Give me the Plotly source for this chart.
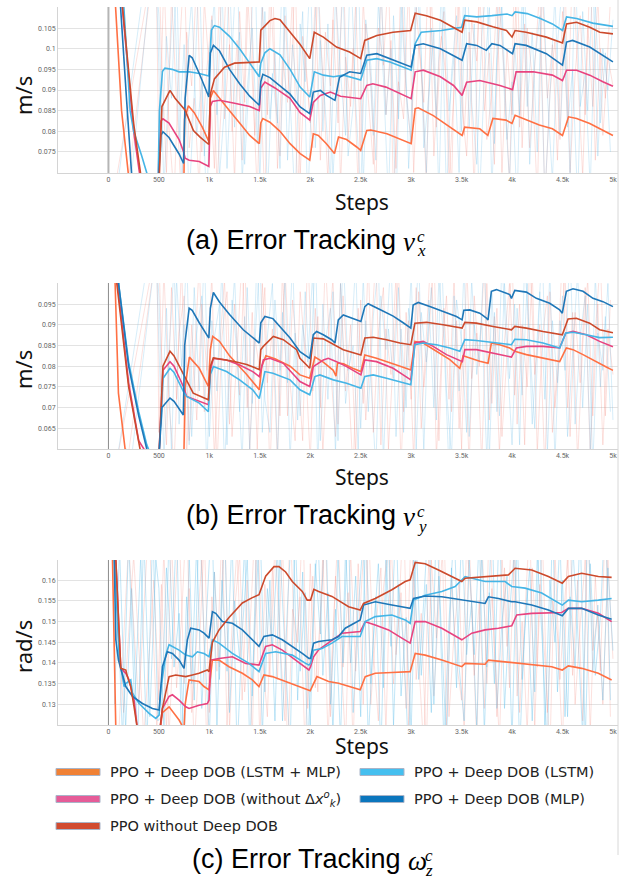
import plotly.graph_objects as go

# ---------------- ticks / categories ----------------
X_TICK_VALS = [0, 500, 1000, 1500, 2000, 2500, 3000, 3500, 4000, 4500, 5000]
X_TICK_TEXT = ["0", "500", "1k", "1.5k", "2k", "2.5k", "3k", "3.5k", "4k", "4.5k", "5k"]
VX_TICKS = [0.075, 0.08, 0.085, 0.09, 0.095, 0.1, 0.105]
VX_TICK_TEXT = ["0.075", "0.08", "0.085", "0.09", "0.095", "0.1", "0.105"]
VY_TICKS = [0.065, 0.07, 0.075, 0.08, 0.085, 0.09, 0.095]
VY_TICK_TEXT = ["0.065", "0.07", "0.075", "0.08", "0.085", "0.09", "0.095"]
WZ_TICKS = [0.13, 0.135, 0.14, 0.145, 0.15, 0.155, 0.16]
WZ_TICK_TEXT = ["0.13", "0.135", "0.14", "0.145", "0.15", "0.155", "0.16"]

# ---------------- panel (a): v_x smoothed ----------------
VX_ORANGE_STEPS = [40, 66, 130, 198, 400, 745, 755, 792, 850, 930, 995, 1010, 1040, 1100, 1200, 1300, 1400, 1495,
                   1510, 1530, 1600, 1700, 1800, 1900, 1995, 2030, 2080, 2160, 2240, 2280, 2360, 2460, 2500,
                   2560, 2600, 2760, 2890, 3000, 3040, 3070, 3220, 3380, 3505, 3530, 3680, 3760, 3810, 3940, 4000,
                   4030, 4110, 4270, 4400, 4500, 4560, 4640, 4770, 4900, 5000]
VX_ORANGE = [0.20, 0.112, 0.085, 0.0695, 0.06, 0.062, 0.083, 0.0862, 0.0845, 0.081, 0.0775, 0.088, 0.0899, 0.088,
             0.085, 0.082, 0.079, 0.077, 0.082, 0.0831, 0.0822, 0.080, 0.077, 0.0746, 0.073, 0.0794, 0.079, 0.077,
             0.0746, 0.0786, 0.078, 0.0762, 0.0754, 0.0802, 0.0803, 0.0794, 0.0782, 0.077, 0.0855, 0.0857, 0.0838,
             0.081, 0.079, 0.081, 0.0806, 0.079, 0.0831, 0.0827, 0.0819, 0.0839, 0.0831, 0.0815, 0.0806, 0.079,
             0.0835, 0.0831, 0.0819, 0.0803, 0.079]

VX_PINK_STEPS = [60, 130, 250, 310, 490, 500, 520, 540, 600, 700, 745, 760, 800, 900, 995, 1010, 1030, 1100, 1250,
                 1400, 1495, 1510, 1550, 1650, 1800, 1900, 1995, 2030, 2100, 2200, 2300, 2500, 2560, 2620, 2750,
                 2890, 3000, 3040, 3120, 3290, 3420, 3505, 3550, 3680, 3880, 4005, 4040, 4210, 4400, 4500, 4540,
                 4640, 4770, 4900, 5000]
VX_PINK = [0.20, 0.112, 0.080, 0.0695, 0.06, 0.075, 0.0825, 0.083, 0.082, 0.078, 0.075, 0.0735, 0.073, 0.0727,
           0.0715, 0.086, 0.0872, 0.0875, 0.0868, 0.086, 0.085, 0.0905, 0.0919, 0.0905, 0.088, 0.0845, 0.0827,
           0.087, 0.0887, 0.0895, 0.0885, 0.0879, 0.0911, 0.0915, 0.0907, 0.0891, 0.0879, 0.0944, 0.0948, 0.0932,
           0.0911, 0.0887, 0.0919, 0.0923, 0.0911, 0.0901, 0.0944, 0.0944, 0.0936, 0.0923, 0.0948, 0.0948, 0.0936,
           0.092, 0.0909]

VX_RED_STEPS = [60, 132, 250, 320, 490, 500, 530, 610, 660, 760, 842, 908, 995, 1010, 1050, 1150, 1250, 1495, 1510,
                1600, 1650, 1700, 1800, 1900, 1995, 2040, 2130, 2260, 2390, 2500, 2540, 2660, 2820, 2995, 3040,
                3150, 3290, 3380, 3505, 3530, 3650, 3810, 3945, 4000, 4030, 4140, 4340, 4500, 4540, 4640, 4770,
                4870, 5000]
VX_RED = [0.20, 0.112, 0.0818, 0.0695, 0.06, 0.066, 0.086, 0.0899, 0.088, 0.0851, 0.0802, 0.0786, 0.0768, 0.089,
          0.0927, 0.0955, 0.0965, 0.0968, 0.1045, 0.1068, 0.1073, 0.107, 0.104, 0.101, 0.0976, 0.104, 0.1028,
          0.1004, 0.0992, 0.0976, 0.102, 0.1032, 0.104, 0.1044, 0.1086, 0.108, 0.1069, 0.1057, 0.104, 0.1069,
          0.1065, 0.1053, 0.1044, 0.1028, 0.1044, 0.104, 0.1028, 0.1014, 0.106, 0.1064, 0.1052, 0.104, 0.1036]

VX_LBLUE_STEPS = [60, 148, 215, 250, 330, 385, 490, 505, 535, 560, 630, 700, 800, 900, 995, 1020, 1050, 1100, 1200,
                  1300, 1400, 1495, 1510, 1550, 1600, 1700, 1800, 1900, 1995, 2040, 2130, 2230, 2330, 2500, 2560,
                  2660, 2790, 2920, 3000, 3040, 3100, 3300, 3500, 3530, 3650, 3800, 3950, 4000, 4030, 4150, 4280,
                  4400, 4500, 4540, 4640, 4800, 5000]
VX_LBLUE = [0.20, 0.112, 0.085, 0.080, 0.074, 0.0695, 0.065, 0.085, 0.0945, 0.0953, 0.095, 0.0944, 0.0944, 0.094,
            0.0934, 0.1045, 0.1056, 0.1052, 0.103, 0.100, 0.0965, 0.0932, 0.0965, 0.099, 0.100, 0.0985, 0.095,
            0.0907, 0.0883, 0.0944, 0.0936, 0.0932, 0.0936, 0.0924, 0.0972, 0.0976, 0.0968, 0.0956, 0.0948, 0.1012,
            0.104, 0.1044, 0.1052, 0.108, 0.1077, 0.108, 0.1084, 0.108, 0.1089, 0.1085, 0.1073, 0.106, 0.1044,
            0.1077, 0.1073, 0.1062, 0.1054]

VX_DBLUE_STEPS = [60, 115, 180, 230, 490, 500, 520, 540, 600, 700, 745, 760, 800, 830, 900, 995, 1010, 1040, 1100,
                  1200, 1300, 1400, 1495, 1510, 1530, 1600, 1700, 1800, 1900, 1995, 2030, 2100, 2160, 2245, 2290,
                  2390, 2500, 2560, 2660, 2790, 2920, 3000, 3040, 3120, 3290, 3420, 3505, 3550, 3650, 3745, 3800,
                  3880, 3950, 4005, 4030, 4140, 4340, 4500, 4540, 4600, 4770, 4900, 5000]
VX_DBLUE = [0.20, 0.112, 0.0875, 0.0695, 0.06, 0.070, 0.079, 0.0799, 0.0785, 0.0745, 0.0722, 0.088, 0.0984, 0.0978,
            0.094, 0.0883, 0.099, 0.1008, 0.0995, 0.095, 0.0915, 0.0885, 0.0863, 0.092, 0.0938, 0.093, 0.091, 0.089,
            0.0859, 0.0843, 0.0895, 0.0899, 0.0887, 0.0875, 0.0931, 0.0944, 0.094, 0.0984, 0.0988, 0.0976, 0.0964,
            0.0956, 0.1008, 0.1012, 0.100, 0.0984, 0.0972, 0.1012, 0.1008, 0.0996, 0.1012, 0.1008, 0.0996, 0.0988,
            0.1012, 0.1008, 0.0988, 0.096, 0.1016, 0.102, 0.1004, 0.0984, 0.0968]

# ---------------- panel (b): v_y smoothed ----------------
VY_ORANGE_STEPS = [50, 66, 99, 165, 480, 745, 760, 802, 900, 990, 1010, 1033, 1100, 1200, 1370, 1495, 1520, 1560,
                   1650, 1800, 1898, 1995, 2046, 2129, 2228, 2255, 2270, 2330, 2420, 2502, 2541, 2657, 2855, 2997,
                   3037, 3119, 3251, 3383, 3482, 3515, 3680, 3762, 3795, 3878, 3977, 4027, 4142, 4307, 4472, 4538,
                   4604, 4703, 4835, 4934, 5000]
VY_ORANGE = [0.20, 0.100, 0.0735, 0.06, 0.055, 0.055, 0.075, 0.0822, 0.0795, 0.0751, 0.084, 0.0872, 0.086, 0.0825,
             0.078, 0.0743, 0.080, 0.0825, 0.0818, 0.080, 0.0779, 0.0771, 0.0822, 0.081, 0.079, 0.0776, 0.0808,
             0.0806, 0.0795, 0.0787, 0.0827, 0.0819, 0.0803, 0.0791, 0.086, 0.0856, 0.0836, 0.0816, 0.0795, 0.0825,
             0.0812, 0.0807, 0.0856, 0.0852, 0.0844, 0.0836, 0.0828, 0.082, 0.0811, 0.0844, 0.084, 0.0828, 0.0812,
             0.0798, 0.079]

VY_PINK_STEPS = [50, 90, 200, 300, 480, 500, 540, 610, 650, 742, 775, 900, 990, 1010, 1040, 1170, 1300, 1430, 1495,
                 1535, 1600, 1733, 1898, 1995, 2030, 2129, 2179, 2261, 2360, 2502, 2541, 2657, 2822, 2921, 2997,
                 3037, 3119, 3218, 3350, 3508, 3532, 3647, 3812, 3994, 4043, 4142, 4307, 4472, 4532, 4604, 4736,
                 4868, 5000]
VY_PINK = [0.20, 0.100, 0.076, 0.062, 0.055, 0.058, 0.079, 0.0811, 0.080, 0.0751, 0.0727, 0.0715, 0.0707, 0.079,
           0.0819, 0.0815, 0.0803, 0.0787, 0.0775, 0.0815, 0.0819, 0.0807, 0.0763, 0.0751, 0.0799, 0.0815, 0.0819,
           0.0811, 0.0799, 0.0779, 0.0815, 0.0811, 0.0795, 0.0779, 0.0767, 0.0856, 0.086, 0.0848, 0.0828, 0.0811,
           0.084, 0.084, 0.0832, 0.0822, 0.0844, 0.0848, 0.0848, 0.0844, 0.088, 0.0884, 0.0876, 0.086, 0.0847]

VY_RED_STEPS = [50, 83, 200, 313, 480, 500, 540, 610, 650, 742, 840, 990, 1010, 1040, 1138, 1237, 1370, 1495, 1510,
                1535, 1634, 1733, 1865, 1898, 1995, 2030, 2129, 2228, 2327, 2502, 2541, 2624, 2756, 2888, 2997, 3037,
                3152, 3317, 3505, 3532, 3647, 3812, 3994, 4027, 4142, 4307, 4498, 4555, 4637, 4769, 4868, 5000]
VY_RED = [0.20, 0.100, 0.075, 0.06, 0.055, 0.058, 0.080, 0.0836, 0.0825, 0.0783, 0.0735, 0.0719, 0.080, 0.082,
          0.0816, 0.0812, 0.0804, 0.0792, 0.084, 0.0848, 0.0872, 0.0864, 0.084, 0.0819, 0.0795, 0.0868, 0.0866,
          0.0852, 0.084, 0.0827, 0.0868, 0.087, 0.0864, 0.0856, 0.0852, 0.0904, 0.0906, 0.090, 0.0892, 0.0906,
          0.0904, 0.0896, 0.0888, 0.0896, 0.0892, 0.0884, 0.0876, 0.0914, 0.0916, 0.0904, 0.0888, 0.0881]

VY_LBLUE_STEPS = [50, 100, 200, 300, 380, 480, 500, 540, 610, 650, 742, 775, 900, 990, 1010, 1040, 1170, 1300, 1430,
                  1495, 1550, 1630, 1800, 1898, 1995, 2046, 2096, 2228, 2360, 2502, 2541, 2624, 2756, 2888, 2997,
                  3037, 3119, 3251, 3383, 3482, 3532, 3647, 3812, 3994, 4027, 4142, 4307, 4472, 4532, 4604, 4736,
                  4868, 5000]
VY_LBLUE = [0.20, 0.100, 0.081, 0.069, 0.061, 0.055, 0.058, 0.077, 0.0795, 0.0785, 0.0739, 0.0727, 0.0711, 0.069,
            0.078, 0.0799, 0.0787, 0.0767, 0.0743, 0.0722, 0.0787, 0.0783, 0.0767, 0.0743, 0.0731, 0.0775, 0.0779,
            0.0767, 0.0759, 0.0747, 0.0775, 0.0779, 0.0771, 0.0763, 0.0755, 0.0852, 0.0856, 0.0852, 0.0844, 0.0836,
            0.0864, 0.0862, 0.0858, 0.0852, 0.0865, 0.0864, 0.0856, 0.0844, 0.088, 0.0882, 0.0876, 0.0869, 0.087]

VY_DBLUE_STEPS = [50, 100, 200, 300, 380, 480, 500, 530, 610, 650, 742, 755, 800, 830, 900, 995, 1010, 1040, 1100,
                  1200, 1336, 1495, 1510, 1550, 1630, 1800, 1898, 1995, 2030, 2063, 2129, 2212, 2245, 2278, 2327,
                  2426, 2502, 2541, 2574, 2690, 2822, 2921, 2997, 3020, 3070, 3185, 3317, 3449, 3505, 3522, 3581,
                  3680, 3746, 3762, 3795, 3845, 3977, 3994, 4027, 4142, 4241, 4373, 4472, 4498, 4538, 4604, 4703,
                  4802, 4901, 5000]
VY_DBLUE = [0.20, 0.100, 0.080, 0.068, 0.060, 0.055, 0.058, 0.070, 0.0723, 0.0715, 0.0682, 0.085, 0.094, 0.0935,
            0.0905, 0.0868, 0.094, 0.0978, 0.0955, 0.0925, 0.0888, 0.0856, 0.0905, 0.092, 0.0915, 0.0868, 0.0835,
            0.0819, 0.0876, 0.0884, 0.0876, 0.0864, 0.0856, 0.0912, 0.0924, 0.0916, 0.0908, 0.0944, 0.0951, 0.0937,
            0.0921, 0.0905, 0.0892, 0.0948, 0.0954, 0.0944, 0.0932, 0.092, 0.0912, 0.0935, 0.0936, 0.0928, 0.0916,
            0.0912, 0.0981, 0.0985, 0.0973, 0.0964, 0.0983, 0.0979, 0.0964, 0.0952, 0.0936, 0.0928, 0.0981, 0.0987,
            0.0981, 0.0964, 0.0956, 0.0944]

# ---------------- panel (c): omega_z smoothed ----------------
WZ_ORANGE_STEPS = [20, 40, 73, 480, 502, 535, 601, 700, 749, 760, 799, 898, 947, 997, 1030, 1096, 1195, 1327, 1426,
                   1492, 1541, 1624, 1756, 1888, 1987, 2000, 2066, 2182, 2281, 2380, 2495, 2545, 2644, 2809, 2990,
                   3040, 3139, 3304, 3502, 3535, 3733, 3766, 3931, 4030, 4195, 4393, 4498, 4558, 4690, 4855, 4987]
WZ_ORANGE = [0.20, 0.165, 0.124, 0.12, 0.122, 0.128, 0.1294, 0.1262, 0.124, 0.130, 0.1359, 0.1355, 0.1343, 0.1335,
             0.1407, 0.1407, 0.1391, 0.1375, 0.1359, 0.1343, 0.1371, 0.1367, 0.1355, 0.1343, 0.1333, 0.1333, 0.1367,
             0.1355, 0.1351, 0.1343, 0.1335, 0.1367, 0.1375, 0.1377, 0.1379, 0.1423, 0.1419, 0.1407, 0.1391, 0.1399,
             0.1397, 0.1407, 0.1403, 0.1399, 0.1395, 0.1391, 0.1383, 0.1393, 0.1387, 0.1375, 0.1359]

WZ_PINK_STEPS = [30, 73, 122, 172, 205, 254, 287, 480, 502, 535, 601, 634, 700, 766, 799, 898, 980, 997, 1013, 1096,
                 1228, 1360, 1492, 1558, 1624, 1723, 1855, 1987, 2003, 2033, 2083, 2215, 2314, 2495, 2545, 2644, 2776,
                 2908, 2990, 3040, 3139, 3304, 3502, 3601, 3733, 3865, 3997, 4046, 4195, 4492, 4558, 4690, 4855, 4987]
WZ_PINK = [0.20, 0.165, 0.1387, 0.1375, 0.1359, 0.131, 0.124, 0.12, 0.122, 0.129, 0.1319, 0.1323, 0.131, 0.1294,
           0.129, 0.1298, 0.1302, 0.131, 0.1407, 0.1411, 0.1415, 0.1399, 0.1395, 0.144, 0.1444, 0.1431, 0.1407,
           0.1383, 0.1391, 0.1415, 0.1432, 0.1456, 0.1472, 0.1476, 0.150, 0.1492, 0.148, 0.146, 0.1448, 0.150,
           0.150, 0.1484, 0.1456, 0.1472, 0.148, 0.1484, 0.149, 0.1516, 0.152, 0.1522, 0.1532, 0.1532, 0.152, 0.150]

WZ_RED_STEPS = [30, 73, 122, 172, 188, 221, 254, 287, 480, 500, 535, 601, 667, 766, 832, 898, 980, 997, 1030, 1096,
                1195, 1327, 1426, 1492, 1558, 1640, 1690, 1756, 1822, 1921, 1970, 2003, 2036, 2083, 2215, 2380, 2495,
                2528, 2644, 2809, 2941, 2990, 3040, 3139, 3271, 3403, 3502, 3535, 3733, 3964, 4030, 4195, 4360, 4498,
                4558, 4690, 4855, 4987]
WZ_RED = [0.20, 0.165, 0.1387, 0.1383, 0.1367, 0.1343, 0.1294, 0.124, 0.12, 0.122, 0.129, 0.1367, 0.1371, 0.1367,
          0.1371, 0.1375, 0.1383, 0.1379, 0.145, 0.148, 0.151, 0.1545, 0.1558, 0.1565, 0.161, 0.1633, 0.1633,
          0.162, 0.1597, 0.1573, 0.1552, 0.1552, 0.1578, 0.1573, 0.1561, 0.1536, 0.1528, 0.1544, 0.1556, 0.1577,
          0.1597, 0.1601, 0.1643, 0.164, 0.1625, 0.1609, 0.1597, 0.1605, 0.1609, 0.1613, 0.1629, 0.1625, 0.1609,
          0.1593, 0.1609, 0.1617, 0.1609, 0.1607]

WZ_LBLUE_STEPS = [30, 60, 106, 155, 172, 221, 238, 304, 403, 469, 502, 520, 568, 601, 700, 766, 832, 881, 947, 997,
                  1030, 1096, 1228, 1393, 1492, 1558, 1657, 1822, 1954, 1987, 2003, 2033, 2116, 2215, 2314, 2495,
                  2545, 2644, 2809, 2941, 2990, 3023, 3139, 3304, 3436, 3535, 3733, 3931, 3997, 4129, 4294, 4498,
                  4558, 4690, 4855, 4987]
WZ_LBLUE = [0.20, 0.165, 0.1415, 0.1343, 0.135, 0.1359, 0.1327, 0.1302, 0.1278, 0.1266, 0.1274, 0.134, 0.142, 0.1444,
            0.1431, 0.1419, 0.1415, 0.1427, 0.1423, 0.1415, 0.1456, 0.1448, 0.1423, 0.1399, 0.1379, 0.1423, 0.1427,
            0.1419, 0.1399, 0.1395, 0.1399, 0.1431, 0.1435, 0.1448, 0.1464, 0.1464, 0.150, 0.1512, 0.1516, 0.1504,
            0.1496, 0.1552, 0.1564, 0.1573, 0.1585, 0.1609, 0.1597, 0.1597, 0.1585, 0.1581, 0.1569, 0.154, 0.1552,
            0.1548, 0.1552, 0.1556]

WZ_DBLUE_STEPS = [30, 56, 73, 99, 139, 172, 238, 337, 436, 502, 535, 584, 634, 700, 749, 782, 815, 898, 947, 997,
                  1030, 1063, 1129, 1228, 1327, 1426, 1492, 1541, 1624, 1723, 1822, 1921, 1987, 2003, 2033, 2083,
                  2215, 2281, 2347, 2462, 2495, 2528, 2644, 2809, 2990, 3023, 3139, 3304, 3502, 3733, 3766, 3865,
                  3997, 4030, 4195, 4360, 4498, 4558, 4690, 4855, 4987]
WZ_DBLUE = [0.20, 0.165, 0.1456, 0.1407, 0.1375, 0.1343, 0.1319, 0.1302, 0.129, 0.1286, 0.1391, 0.1427, 0.1423,
            0.1407, 0.1387, 0.1456, 0.1484, 0.148, 0.1472, 0.146, 0.1524, 0.152, 0.150, 0.1496, 0.148, 0.1456, 0.144,
            0.1464, 0.1468, 0.1456, 0.144, 0.1423, 0.1411, 0.1411, 0.1448, 0.1452, 0.1456, 0.1464, 0.1484, 0.150,
            0.1504, 0.154, 0.1548, 0.154, 0.1532, 0.1556, 0.1562, 0.156, 0.1552, 0.1544, 0.156, 0.1556, 0.1548,
            0.1548, 0.154, 0.1528, 0.1514, 0.1532, 0.1532, 0.1516, 0.1506]

# ---------------- faint raw (unsmoothed) readings ----------------
RAW_GRID_STEPS = list(range(500, 5001, 50))
RAW_GRID2_STEPS = list(range(525, 4976, 50))

VX_RAW_WARM_EARLY_STEPS = [20, 470]
VX_RAW_WARM_EARLY = [0.06, 0.125]
VX_RAW_WARM = [0.072, 0.118, 0.081, 0.064, 0.097, 0.121, 0.076, 0.088, 0.066, 0.112,
               0.094, 0.071, 0.115, 0.083, 0.101, 0.068, 0.109, 0.087, 0.124, 0.079,
               0.096, 0.063, 0.117, 0.092, 0.074, 0.108, 0.085, 0.119, 0.069, 0.099,
               0.082, 0.113, 0.073, 0.104, 0.091, 0.122, 0.067, 0.098, 0.086, 0.111,
               0.075, 0.106, 0.093, 0.065, 0.116, 0.084, 0.102, 0.071, 0.12, 0.089,
               0.077, 0.11, 0.095, 0.068, 0.114, 0.081, 0.103, 0.092, 0.066, 0.118,
               0.087, 0.074, 0.107, 0.097, 0.123, 0.078, 0.09, 0.112, 0.07, 0.1,
               0.084, 0.119, 0.076, 0.105, 0.093, 0.064, 0.115, 0.088, 0.101, 0.073,
               0.109, 0.082, 0.121, 0.095, 0.069, 0.106, 0.086, 0.113, 0.079, 0.098,
               0.091]
VX_RAW_WARM2_EARLY_STEPS = [150, 490]
VX_RAW_WARM2_EARLY = [0.058, 0.13]
VX_RAW_WARM2 = [0.099, 0.07, 0.113, 0.086, 0.062, 0.104, 0.091, 0.118, 0.075, 0.095,
                0.108, 0.067, 0.089, 0.121, 0.08, 0.102, 0.073, 0.115, 0.093, 0.065,
                0.11, 0.084, 0.12, 0.071, 0.098, 0.087, 0.114, 0.063, 0.103, 0.09,
                0.076, 0.117, 0.094, 0.068, 0.107, 0.082, 0.123, 0.078, 0.1, 0.066,
                0.112, 0.088, 0.072, 0.105, 0.096, 0.119, 0.064, 0.092, 0.083, 0.116,
                0.07, 0.101, 0.087, 0.122, 0.074, 0.097, 0.109, 0.068, 0.09, 0.113,
                0.079, 0.104, 0.065, 0.118, 0.085, 0.099, 0.072, 0.111, 0.093, 0.067,
                0.12, 0.081, 0.106, 0.076, 0.096, 0.115, 0.063, 0.089, 0.102, 0.078,
                0.117, 0.07, 0.094, 0.108, 0.084, 0.121, 0.073, 0.1, 0.088, 0.112]
VX_RAW_COOL_EARLY_STEPS = [80, 430]
VX_RAW_COOL_EARLY = [0.065, 0.13]
VX_RAW_COOL = [0.108, 0.066, 0.093, 0.117, 0.078, 0.101, 0.063, 0.089, 0.121, 0.074,
               0.097, 0.112, 0.069, 0.086, 0.118, 0.081, 0.104, 0.072, 0.095, 0.125,
               0.067, 0.109, 0.083, 0.099, 0.071, 0.114, 0.088, 0.062, 0.106, 0.092,
               0.119, 0.076, 0.102, 0.085, 0.068, 0.113, 0.094, 0.079, 0.122, 0.087,
               0.065, 0.107, 0.096, 0.073, 0.116, 0.084, 0.1, 0.061, 0.111, 0.09,
               0.077, 0.12, 0.098, 0.07, 0.105, 0.083, 0.115, 0.064, 0.094, 0.108,
               0.08, 0.123, 0.087, 0.072, 0.103, 0.117, 0.066, 0.097, 0.111, 0.078,
               0.092, 0.062, 0.114, 0.086, 0.104, 0.075, 0.12, 0.089, 0.068, 0.101,
               0.116, 0.081, 0.095, 0.063, 0.109, 0.085, 0.118, 0.074, 0.1, 0.09,
               0.107]
VX_RAW_COOL2_EARLY_STEPS = [200, 460]
VX_RAW_COOL2_EARLY = [0.062, 0.128]
VX_RAW_COOL2 = [0.075, 0.103, 0.088, 0.119, 0.066, 0.096, 0.112, 0.079, 0.092, 0.061,
                0.107, 0.084, 0.116, 0.071, 0.099, 0.124, 0.068, 0.09, 0.105, 0.077,
                0.113, 0.064, 0.094, 0.082, 0.12, 0.073, 0.101, 0.087, 0.109, 0.062,
                0.097, 0.118, 0.08, 0.106, 0.069, 0.091, 0.115, 0.074, 0.086, 0.122,
                0.067, 0.102, 0.079, 0.111, 0.093, 0.063, 0.108, 0.083, 0.117, 0.071,
                0.095, 0.121, 0.076, 0.089, 0.104, 0.065, 0.114, 0.085, 0.098, 0.07,
                0.119, 0.081, 0.106, 0.062, 0.093, 0.11, 0.077, 0.123, 0.088, 0.068,
                0.101, 0.084, 0.116, 0.072, 0.097, 0.108, 0.064, 0.09, 0.113, 0.079,
                0.105, 0.069, 0.12, 0.086, 0.094, 0.066, 0.111, 0.082, 0.099, 0.075]

VY_RAW_WARM_EARLY_STEPS = [30, 480]
VY_RAW_WARM_EARLY = [0.05, 0.11]
VY_RAW_WARM = [0.064, 0.103, 0.071, 0.056, 0.088, 0.097, 0.062, 0.081, 0.105, 0.069,
               0.092, 0.058, 0.084, 0.101, 0.066, 0.095, 0.073, 0.108, 0.06, 0.087,
               0.079, 0.099, 0.054, 0.091, 0.068, 0.104, 0.076, 0.062, 0.098, 0.083,
               0.057, 0.094, 0.07, 0.106, 0.08, 0.063, 0.1, 0.074, 0.09, 0.059,
               0.096, 0.067, 0.085, 0.107, 0.061, 0.089, 0.078, 0.102, 0.055, 0.093,
               0.072, 0.099, 0.065, 0.086, 0.109, 0.058, 0.082, 0.097, 0.069, 0.091,
               0.06, 0.104, 0.077, 0.088, 0.056, 0.1, 0.071, 0.094, 0.063, 0.083,
               0.106, 0.066, 0.09, 0.075, 0.103, 0.059, 0.087, 0.097, 0.064, 0.08,
               0.108, 0.07, 0.093, 0.057, 0.085, 0.101, 0.068, 0.095, 0.061, 0.089,
               0.078]
VY_RAW_WARM2_EARLY_STEPS = [160, 495]
VY_RAW_WARM2_EARLY = [0.052, 0.112]
VY_RAW_WARM2 = [0.084, 0.061, 0.099, 0.072, 0.105, 0.058, 0.09, 0.067, 0.095, 0.079,
                0.102, 0.055, 0.087, 0.098, 0.063, 0.083, 0.107, 0.07, 0.093, 0.06,
                0.1, 0.076, 0.089, 0.057, 0.104, 0.068, 0.096, 0.081, 0.062, 0.109,
                0.074, 0.092, 0.059, 0.086, 0.101, 0.066, 0.097, 0.078, 0.054, 0.094,
                0.071, 0.106, 0.064, 0.088, 0.099, 0.06, 0.083, 0.103, 0.069, 0.091,
                0.057, 0.098, 0.075, 0.087, 0.108, 0.062, 0.094, 0.072, 0.101, 0.065,
                0.089, 0.056, 0.097, 0.08, 0.105, 0.067, 0.092, 0.059, 0.086, 0.1,
                0.073, 0.095, 0.061, 0.107, 0.078, 0.09, 0.055, 0.098, 0.07, 0.084,
                0.103, 0.063, 0.093, 0.076, 0.099, 0.058, 0.088, 0.106, 0.068, 0.096]
VY_RAW_COOL_EARLY_STEPS = [70, 450]
VY_RAW_COOL_EARLY = [0.055, 0.115]
VY_RAW_COOL = [0.097, 0.058, 0.083, 0.104, 0.066, 0.09, 0.061, 0.099, 0.074, 0.108,
               0.063, 0.087, 0.095, 0.056, 0.081, 0.102, 0.069, 0.092, 0.06, 0.085,
               0.106, 0.072, 0.064, 0.096, 0.079, 0.101, 0.057, 0.088, 0.068, 0.098,
               0.075, 0.109, 0.062, 0.086, 0.094, 0.059, 0.1, 0.071, 0.083, 0.105,
               0.065, 0.091, 0.077, 0.055, 0.097, 0.084, 0.107, 0.063, 0.089, 0.07,
               0.103, 0.06, 0.093, 0.081, 0.099, 0.067, 0.108, 0.074, 0.058, 0.096,
               0.086, 0.064, 0.101, 0.078, 0.092, 0.057, 0.098, 0.069, 0.105, 0.082,
               0.061, 0.094, 0.073, 0.1, 0.066, 0.087, 0.109, 0.059, 0.091, 0.076,
               0.097, 0.063, 0.084, 0.103, 0.07, 0.095, 0.056, 0.088, 0.079, 0.1,
               0.067]
VY_RAW_COOL2_EARLY_STEPS = [210, 470]
VY_RAW_COOL2_EARLY = [0.054, 0.108]
VY_RAW_COOL2 = [0.066, 0.094, 0.059, 0.101, 0.08, 0.107, 0.063, 0.088, 0.097, 0.055,
                0.091, 0.074, 0.104, 0.061, 0.096, 0.083, 0.057, 0.099, 0.071, 0.109,
                0.064, 0.087, 0.1, 0.058, 0.093, 0.076, 0.106, 0.067, 0.09, 0.081,
                0.103, 0.056, 0.095, 0.072, 0.098, 0.062, 0.108, 0.079, 0.085, 0.06,
                0.102, 0.069, 0.092, 0.105, 0.057, 0.089, 0.077, 0.099, 0.064, 0.094,
                0.082, 0.107, 0.059, 0.096, 0.07, 0.101, 0.086, 0.055, 0.097, 0.074,
                0.104, 0.063, 0.09, 0.081, 0.108, 0.058, 0.093, 0.068, 0.1, 0.077,
                0.095, 0.061, 0.106, 0.084, 0.065, 0.098, 0.072, 0.103, 0.057, 0.091,
                0.079, 0.109, 0.066, 0.087, 0.097, 0.06, 0.102, 0.075, 0.092, 0.069]

WZ_RAW_WARM_EARLY_STEPS = [50, 150, 250, 350, 450]
WZ_RAW_WARM_EARLY = [0.17, 0.128, 0.166, 0.122, 0.16]
WZ_RAW_WARM = [0.131, 0.168, 0.122, 0.149, 0.174, 0.135, 0.158, 0.119, 0.143, 0.171,
               0.128, 0.162, 0.139, 0.177, 0.124, 0.153, 0.166, 0.133, 0.147, 0.172,
               0.121, 0.159, 0.137, 0.169, 0.145, 0.126, 0.175, 0.141, 0.156, 0.118,
               0.164, 0.134, 0.151, 0.173, 0.127, 0.161, 0.144, 0.12, 0.167, 0.138,
               0.155, 0.176, 0.13, 0.148, 0.163, 0.123, 0.17, 0.142, 0.157, 0.129,
               0.174, 0.136, 0.152, 0.119, 0.165, 0.146, 0.178, 0.125, 0.16, 0.14,
               0.131, 0.169, 0.154, 0.121, 0.172, 0.135, 0.158, 0.127, 0.166, 0.144,
               0.176, 0.132, 0.15, 0.123, 0.163, 0.139, 0.171, 0.128, 0.155, 0.147,
               0.12, 0.168, 0.137, 0.16, 0.126, 0.174, 0.143, 0.152, 0.13, 0.165,
               0.141]
WZ_RAW_WARM2_EARLY_STEPS = [100, 200, 300, 400, 480]
WZ_RAW_WARM2_EARLY = [0.122, 0.169, 0.13, 0.175, 0.124]
WZ_RAW_WARM2 = [0.159, 0.123, 0.171, 0.134, 0.151, 0.177, 0.128, 0.146, 0.165, 0.119,
                0.156, 0.138, 0.173, 0.125, 0.149, 0.168, 0.131, 0.16, 0.121, 0.175,
                0.142, 0.127, 0.163, 0.136, 0.17, 0.118, 0.153, 0.145, 0.176, 0.129,
                0.161, 0.133, 0.167, 0.122, 0.148, 0.172, 0.139, 0.157, 0.12, 0.164,
                0.13, 0.174, 0.143, 0.126, 0.158, 0.169, 0.135, 0.15, 0.178, 0.124,
                0.162, 0.14, 0.119, 0.166, 0.132, 0.154, 0.173, 0.127, 0.147, 0.16,
                0.122, 0.17, 0.137, 0.155, 0.129, 0.176, 0.144, 0.121, 0.163, 0.134,
                0.168, 0.128, 0.152, 0.174, 0.125, 0.159, 0.141, 0.118, 0.167, 0.136,
                0.156, 0.172, 0.13, 0.149, 0.165, 0.123, 0.161, 0.138, 0.175, 0.127]
WZ_RAW_COOL_EARLY_STEPS = [60, 110, 170, 230, 290, 350, 410, 470]
WZ_RAW_COOL_EARLY = [0.13, 0.168, 0.124, 0.158, 0.121, 0.171, 0.127, 0.165]
WZ_RAW_COOL = [0.158, 0.124, 0.171, 0.139, 0.152, 0.118, 0.166, 0.131, 0.177, 0.145,
               0.122, 0.162, 0.136, 0.174, 0.128, 0.155, 0.141, 0.169, 0.12, 0.149,
               0.175, 0.133, 0.16, 0.126, 0.167, 0.143, 0.119, 0.172, 0.138, 0.157,
               0.125, 0.164, 0.147, 0.178, 0.13, 0.153, 0.121, 0.168, 0.14, 0.161,
               0.127, 0.173, 0.135, 0.156, 0.118, 0.165, 0.144, 0.176, 0.132, 0.151,
               0.123, 0.17, 0.137, 0.159, 0.128, 0.175, 0.146, 0.12, 0.163, 0.134,
               0.172, 0.142, 0.155, 0.124, 0.167, 0.139, 0.177, 0.129, 0.15, 0.161,
               0.121, 0.171, 0.136, 0.158, 0.126, 0.166, 0.145, 0.119, 0.174, 0.133,
               0.16, 0.127, 0.169, 0.148, 0.122, 0.176, 0.138, 0.154, 0.131, 0.163,
               0.143]
WZ_RAW_COOL2_EARLY_STEPS = [80, 140, 200, 260, 320, 380, 440, 490]
WZ_RAW_COOL2_EARLY = [0.162, 0.121, 0.17, 0.129, 0.166, 0.119, 0.173, 0.126]
WZ_RAW_COOL2 = [0.127, 0.163, 0.141, 0.174, 0.12, 0.156, 0.135, 0.169, 0.129, 0.152,
                0.177, 0.124, 0.16, 0.138, 0.171, 0.118, 0.147, 0.165, 0.132, 0.175,
                0.122, 0.158, 0.143, 0.168, 0.126, 0.154, 0.178, 0.131, 0.162, 0.119,
                0.149, 0.172, 0.137, 0.157, 0.123, 0.166, 0.14, 0.176, 0.128, 0.153,
                0.17, 0.121, 0.146, 0.164, 0.134, 0.174, 0.125, 0.159, 0.144, 0.118,
                0.167, 0.136, 0.155, 0.177, 0.13, 0.161, 0.12, 0.15, 0.173, 0.139,
                0.126, 0.165, 0.142, 0.171, 0.123, 0.157, 0.135, 0.176, 0.129, 0.152,
                0.168, 0.119, 0.148, 0.163, 0.133, 0.175, 0.124, 0.16, 0.145, 0.17,
                0.127, 0.156, 0.139, 0.173, 0.121, 0.164, 0.137, 0.151, 0.178, 0.131]

# ---------------- styling ----------------
LINE_COLORS = {"orange": "#FF7043", "pink": "#E8437F", "red": "#CC4A2C", "lblue": "#45B5E6", "dblue": "#1F77B8"}
SWATCH_COLORS = ["#F08135", "#E55C98", "#D14B30", "#45BFEF", "#0B76BD"]
WARM_FAINT = "rgba(242,140,128,0.26)"
COOL_FAINT = "rgba(110,190,232,0.28)"
COOL_FAINT_DENSE = "rgba(110,195,235,0.42)"

W, H = 629, 880


def px(x):
    return x / W


def py(y):
    return 1 - y / H


panels = [
    dict(ax="", ticks=VX_TICKS, ticktext=VX_TICK_TEXT, yr=[0.0699, 0.1101], dom=(7, 173),
         raw=[(VX_RAW_WARM_EARLY_STEPS, VX_RAW_WARM_EARLY, RAW_GRID_STEPS, VX_RAW_WARM, WARM_FAINT),
              (VX_RAW_COOL_EARLY_STEPS, VX_RAW_COOL_EARLY, RAW_GRID_STEPS, VX_RAW_COOL, COOL_FAINT),
              (VX_RAW_WARM2_EARLY_STEPS, VX_RAW_WARM2_EARLY, RAW_GRID2_STEPS, VX_RAW_WARM2, WARM_FAINT),
              (VX_RAW_COOL2_EARLY_STEPS, VX_RAW_COOL2_EARLY, RAW_GRID2_STEPS, VX_RAW_COOL2, COOL_FAINT)],
         lines=[("orange", VX_ORANGE_STEPS, VX_ORANGE), ("pink", VX_PINK_STEPS, VX_PINK),
                ("lblue", VX_LBLUE_STEPS, VX_LBLUE), ("dblue", VX_DBLUE_STEPS, VX_DBLUE),
                ("red", VX_RED_STEPS, VX_RED)]),
    dict(ax="2", ticks=VY_TICKS, ticktext=VY_TICK_TEXT, yr=[0.0600, 0.1001], dom=(283, 449),
         raw=[(VY_RAW_WARM_EARLY_STEPS, VY_RAW_WARM_EARLY, RAW_GRID_STEPS, VY_RAW_WARM, WARM_FAINT),
              (VY_RAW_COOL_EARLY_STEPS, VY_RAW_COOL_EARLY, RAW_GRID_STEPS, VY_RAW_COOL, COOL_FAINT),
              (VY_RAW_WARM2_EARLY_STEPS, VY_RAW_WARM2_EARLY, RAW_GRID2_STEPS, VY_RAW_WARM2, WARM_FAINT),
              (VY_RAW_COOL2_EARLY_STEPS, VY_RAW_COOL2_EARLY, RAW_GRID2_STEPS, VY_RAW_COOL2, COOL_FAINT)],
         lines=[("orange", VY_ORANGE_STEPS, VY_ORANGE), ("pink", VY_PINK_STEPS, VY_PINK),
                ("lblue", VY_LBLUE_STEPS, VY_LBLUE), ("red", VY_RED_STEPS, VY_RED),
                ("dblue", VY_DBLUE_STEPS, VY_DBLUE)]),
    dict(ax="3", ticks=WZ_TICKS, ticktext=WZ_TICK_TEXT, yr=[0.1250, 0.1649], dom=(560, 725),
         raw=[(WZ_RAW_WARM_EARLY_STEPS, WZ_RAW_WARM_EARLY, RAW_GRID_STEPS, WZ_RAW_WARM, WARM_FAINT),
              (WZ_RAW_COOL_EARLY_STEPS, WZ_RAW_COOL_EARLY, RAW_GRID_STEPS, WZ_RAW_COOL, COOL_FAINT_DENSE),
              (WZ_RAW_WARM2_EARLY_STEPS, WZ_RAW_WARM2_EARLY, RAW_GRID2_STEPS, WZ_RAW_WARM2, WARM_FAINT),
              (WZ_RAW_COOL2_EARLY_STEPS, WZ_RAW_COOL2_EARLY, RAW_GRID2_STEPS, WZ_RAW_COOL2, COOL_FAINT_DENSE)],
         lines=[("orange", WZ_ORANGE_STEPS, WZ_ORANGE), ("pink", WZ_PINK_STEPS, WZ_PINK),
                ("lblue", WZ_LBLUE_STEPS, WZ_LBLUE), ("dblue", WZ_DBLUE_STEPS, WZ_DBLUE),
                ("red", WZ_RED_STEPS, WZ_RED)]),
]

fig = go.Figure()
layout = dict(width=W, height=H, margin=dict(l=0, r=0, t=0, b=0, autoexpand=False), paper_bgcolor="white",
              plot_bgcolor="white", showlegend=False)
shapes = []
annotations = []

for p in panels:
    xa, ya = "x" + p["ax"], "y" + p["ax"]
    for es, ev, gs, gv, col in p["raw"]:
        assert len(gv) == len(gs), (len(gv), len(gs))
        fig.add_trace(go.Scatter(x=es + gs, y=ev + gv, mode="lines", xaxis=xa, yaxis=ya,
                                 line=dict(color=col, width=1), hoverinfo="skip"))
    for key, xs, ys in p["lines"]:
        assert len(xs) == len(ys), (key, len(xs), len(ys))
        fig.add_trace(go.Scatter(x=xs, y=ys, mode="lines", xaxis=xa, yaxis=ya,
                                 line=dict(color=LINE_COLORS[key], width=1.6)))
    top, bot = p["dom"]
    layout["xaxis" + p["ax"]] = dict(domain=[px(58), px(618)], range=[-500, 5050], anchor=ya,
                                     tickvals=X_TICK_VALS, ticktext=X_TICK_TEXT, showgrid=False,
                                     zeroline=False, showline=True, linecolor="#d4d4d4", linewidth=1,
                                     ticks="", automargin=False,
                                     tickfont=dict(family="Roboto", size=7, color="#666"))
    layout["yaxis" + p["ax"]] = dict(domain=[py(bot), py(top)], range=p["yr"], anchor=xa,
                                     tickvals=p["ticks"], ticktext=p["ticktext"], showgrid=True,
                                     gridcolor="#e3e3e3", gridwidth=1, zeroline=False, showline=True,
                                     linecolor="#d4d4d4", linewidth=1, ticks="", automargin=False,
                                     tickfont=dict(family="Roboto", size=7, color="#666"))
    shapes.append(dict(type="line", xref=xa, yref=ya + " domain", x0=0, x1=0, y0=0, y1=1,
                       line=dict(color="#b5b5b5" if p["ax"] == "" else "#8c8c8c",
                                 width=2 if p["ax"] == "" else 1)))

# right border line
shapes.append(dict(type="line", xref="paper", yref="paper", x0=px(618), x1=px(618), y0=py(855), y1=1,
                   line=dict(color="#d8d8d8", width=1)))


def ann(text, x, y, font, xanchor="center", yanchor="middle", **kw):
    d = dict(text=text, x=px(x), y=py(y), xref="paper", yref="paper", xanchor=xanchor, yanchor=yanchor,
             showarrow=False, font=font)
    d.update(kw)
    return d


# axis titles
for y_steps in (202, 477, 746):
    annotations.append(ann("Steps", 362, y_steps, dict(family="Noto Sans", size=21, color="#111")))
for txt, yc in (("m/s", 96), ("m/s", 370), ("rad/s", 647)):
    annotations.append(ann(txt, 23, yc, dict(family="Noto Sans", size=22, color="#111"), textangle=-90))

# captions
CAP_FONT = dict(family="Liberation Sans", size=27, color="black")
MATH_FONT = dict(family="Liberation Serif", size=27, color="black")
SMALL_MATH = dict(family="Liberation Serif", size=17, color="black")
for lab, yc, xl, sym, sub, symx in (("(a) Error Tracking", 240, 184, "v", "x", 401),
                                     ("(b) Error Tracking", 515, 184, "v", "y", 401),
                                     ("(c) Error Tracking", 859, 190, "ω", "z", 406)):
    annotations.append(ann(lab, xl, yc, CAP_FONT, xanchor="left"))
    annotations.append(ann("<i>%s</i>" % sym, symx, yc + 2, MATH_FONT, xanchor="left"))
    sx = symx + (14 if sym == "v" else 17)
    annotations.append(ann("<i>c</i>", sx, yc - 4, SMALL_MATH, xanchor="left"))
    annotations.append(ann("<i>%s</i>" % sub, sx, yc + 11, SMALL_MATH, xanchor="left"))

# legend (manual)
LEGEND_TEXT = ["PPO + Deep DOB (LSTM + MLP)",
               "PPO + Deep DOB (without Δ<i>x</i><sup><i>o</i></sup><sub><i>k</i></sub>)",
               "PPO without Deep DOB",
               "PPO + Deep DOB (LSTM)",
               "PPO + Deep DOB (MLP)"]
LEG_POS = [(56, 772), (56, 799), (56, 826), (360, 772), (360, 799)]
for (lx, ly), txt, col in zip(LEG_POS, LEGEND_TEXT, SWATCH_COLORS):
    shapes.append(dict(type="rect", xref="paper", yref="paper", x0=px(lx), x1=px(lx + 44),
                       y0=py(ly + 3.5), y1=py(ly - 3.5), fillcolor=col,
                       line=dict(color="#a9b4c8", width=1)))
    annotations.append(ann(txt, lx + 52, ly, dict(family="DejaVu Sans", size=14.5, color="#222"),
                           xanchor="left"))

layout["shapes"] = shapes
layout["annotations"] = annotations
fig.update_layout(**layout)
fig.write_html("out.html", config={"displayModeBar": False},
               post_script="document.body.style.margin='0';")
